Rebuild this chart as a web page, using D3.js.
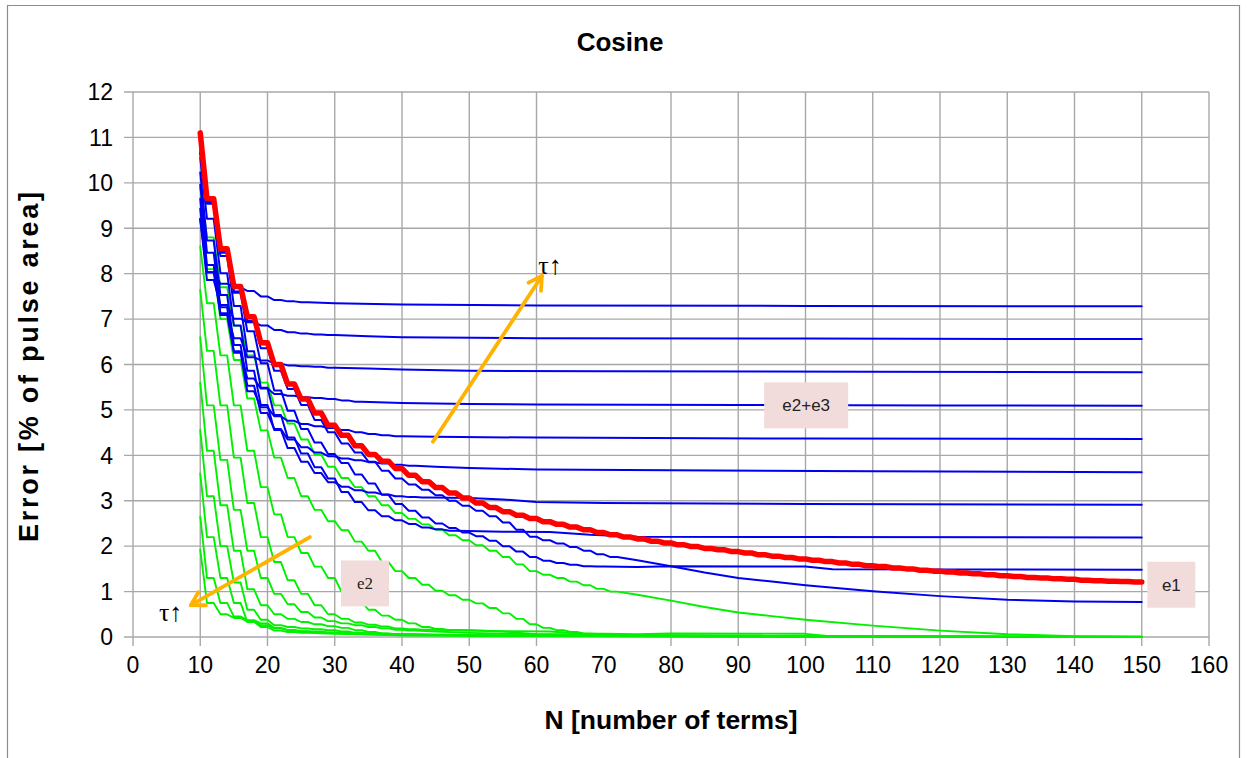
<!DOCTYPE html>
<html>
<head>
<meta charset="utf-8">
<script src="https://cdn.jsdelivr.net/npm/d3@7"></script>
<style>
  body { margin: 0; background: #fff; }
  svg { display: block; }
</style>
</head>
<body>
<svg id="chart" width="1247" height="758"></svg>
<script>
// ---- axis ticks ----
const xTicks = [0, 10, 20, 30, 40, 50, 60, 70, 80, 90, 100, 110, 120, 130, 140, 150, 160];
const yTicks = [0, 1, 2, 3, 4, 5, 6, 7, 8, 9, 10, 11, 12];
const xGridGaps = [70];   // this gridline is not drawn in the sheet

// ---- series ----
// "steps" arrays: first value at N=10, then one level per pair of terms
// (N=11/12, 13/14, 15/16, ...). "tails" continue a curve as [N, value].

// e1: truncation error
const e1Steps = [11.1,
  9.65, 8.55, 7.72, 7.05, 6.48, 6.0, 5.57, 5.24, 4.93, 4.66,
  4.44, 4.21, 4.02, 3.87, 3.71, 3.56, 3.42, 3.29, 3.17, 3.06,
  2.95, 2.85, 2.76, 2.68, 2.61, 2.54, 2.48, 2.42, 2.36, 2.3,
  2.25, 2.2, 2.16, 2.11, 2.07, 2.03, 1.99, 1.95, 1.92, 1.88,
  1.85, 1.81, 1.78, 1.75, 1.72, 1.69, 1.66, 1.63, 1.6, 1.57,
  1.55, 1.52, 1.5, 1.47, 1.45, 1.43, 1.41, 1.39, 1.37, 1.35,
  1.33, 1.31, 1.3, 1.28, 1.27, 1.25, 1.24, 1.23, 1.22, 1.21];

// e2: one curve per pulse width tau (fastest decay first)
const e2Steps = [
  [1.92, 0.75, 0.5, 0.42, 0.34, 0.22, 0.14, 0.11, 0.09],
  [2.65, 1.3, 0.75, 0.45, 0.37, 0.3, 0.2, 0.15, 0.12, 0.1, 0.09],
  [3.6, 2.2, 1.3, 0.75, 0.33, 0.26, 0.19, 0.15, 0.13, 0.12, 0.1],
  [4.56, 3.1, 2.0, 1.2, 0.6, 0.38, 0.26, 0.22, 0.19, 0.17, 0.15, 0.12, 0.09],
  [5.6, 4.1, 2.9, 1.9, 1.05, 0.7, 0.5, 0.4, 0.33, 0.28, 0.24, 0.2, 0.15, 0.11, 0.08, 0.06],
  [6.6, 5.1, 3.9, 2.8, 1.9, 1.3, 0.95, 0.72, 0.55, 0.43, 0.35, 0.3, 0.26, 0.22, 0.19, 0.16, 0.14],
  [7.64, 6.3, 5.1, 3.95, 2.95, 2.2, 1.65, 1.25, 0.95, 0.7, 0.5, 0.4, 0.32, 0.27, 0.23, 0.19, 0.17, 0.16],
  [8.6, 7.35, 6.2, 5.1, 4.1, 3.3, 2.7, 2.2, 1.85, 1.55, 1.3, 1.0, 0.78, 0.6, 0.47, 0.38, 0.3, 0.22, 0.18, 0.15],
  [9.2, 8.1, 7.0, 6.1, 5.25, 4.55, 3.95, 3.5, 3.1, 2.8, 2.55, 2.35, 2.1, 1.9, 1.65, 1.45,
   1.3, 1.15, 1.02, 0.92, 0.82, 0.74, 0.64, 0.52, 0.4, 0.28, 0.2, 0.15, 0.11, 0.08, 0.07],
  [9.9, 8.8, 7.7, 6.85, 6.2, 5.6, 5.1, 4.7, 4.35, 4.02, 3.75, 3.5, 3.3, 3.1, 2.9, 2.73,
   2.6, 2.48, 2.36, 2.24, 2.13, 2.02, 1.9, 1.76, 1.6, 1.45, 1.37, 1.3, 1.22, 1.14, 1.06, 1.0]
];
const e2Tails = [
  [[30, 0.07], [40, 0.04], [60, 0.02], [100, 0.01], [150, 0]],
  [[35, 0.06], [40, 0.04], [60, 0.02], [100, 0.01], [150, 0]],
  [[35, 0.08], [40, 0.06], [50, 0.03], [70, 0.02], [110, 0.01], [150, 0]],
  [[40, 0.06], [50, 0.04], [60, 0.03], [90, 0.02], [120, 0.01], [150, 0]],
  [[45, 0.05], [60, 0.03], [100, 0.01], [150, 0]],
  [[45, 0.12], [50, 0.09], [60, 0.06], [80, 0.04], [110, 0.02], [150, 0]],
  [[50, 0.15], [55, 0.12], [60, 0.06], [70, 0.04], [100, 0.02], [150, 0]],
  [[55, 0.13], [62, 0.12], [68, 0.06], [75, 0.02], [100, 0.01], [150, 0]],
  [[75, 0.06], [80, 0.08], [100, 0.07], [104, 0.01], [150, 0]],
  [[75, 0.93], [80, 0.8], [85, 0.66], [90, 0.54], [95, 0.46], [100, 0.38],
   [110, 0.25], [120, 0.14], [130, 0.06], [140, 0.02], [150, 0.01]]
];
// e3: constant part for each tau, in the same order as e2
const e3Levels = [7.28, 6.56, 5.83, 5.09, 4.36, 3.63, 2.91, 2.19, 1.48, 0.76];

// ---- layout ----
const W = 1247, H = 758;
const svg = d3.select('#chart');
const x = d3.scaleLinear().domain([0, 160]).range([133, 1209]);
const y = d3.scaleLinear().domain([0, 12]).range([637, 92]);

const narrow = "'Liberation Sans Narrow', 'Arial Narrow', 'Liberation Sans', Arial, sans-serif";
const sansWide = "'Liberation Sans', Arial, sans-serif";
const serif = "'Liberation Serif', 'Times New Roman', serif";

// outer frame of the chart area
svg.append('path')
  .attr('d', 'M7.5,' + H + ' V5.5 H1239.5 V' + H)
  .attr('fill', 'none').attr('stroke', '#8c8c8c').attr('stroke-width', 1.2);

// gridlines with short outward ticks
const grid = svg.append('g').attr('stroke', '#a8a8a8').attr('stroke-width', 1.4);
xTicks.filter(t => !xGridGaps.includes(t)).forEach(t => {
  grid.append('line')
    .attr('x1', x(t)).attr('x2', x(t))
    .attr('y1', y(12)).attr('y2', y(0) + 9);
});
yTicks.forEach(t => {
  grid.append('line')
    .attr('x1', x(0) - 9).attr('x2', x(160))
    .attr('y1', y(t)).attr('y2', y(t));
});

// tick labels
const tickG = svg.append('g').attr('font-family', narrow).attr('font-size', 23).attr('fill', '#000');
yTicks.forEach(t => {
  tickG.append('text').attr('x', x(0) - 20).attr('y', y(t)).attr('dy', '0.36em')
    .attr('text-anchor', 'end').text(t);
});
xTicks.forEach(t => {
  tickG.append('text').attr('x', x(t)).attr('y', 673)
    .attr('text-anchor', 'middle').text(t);
});

// titles
svg.append('text').attr('x', 620).attr('y', 51).attr('text-anchor', 'middle')
  .attr('font-family', narrow).attr('font-weight', 'bold').attr('font-size', 26)
  .text('Cosine');
svg.append('text').attr('x', 671).attr('y', 729).attr('text-anchor', 'middle')
  .attr('font-family', sansWide).attr('font-weight', 'bold').attr('font-size', 26)
  .attr('textLength', 253).attr('lengthAdjust', 'spacingAndGlyphs')
  .text('N [number of terms]');
svg.append('text')
  .attr('transform', 'translate(38,367) rotate(-90)')
  .attr('text-anchor', 'middle')
  .attr('font-family', sansWide).attr('font-weight', 'bold').attr('font-size', 27)
  .attr('textLength', 350)
  .text('Error [% of pulse area]');

// ---- curves ----
function stepPoints(steps, tail) {
  const pts = [[10, steps[0]]];
  for (let i = 1; i < steps.length; i++) {
    const n = 9 + 2 * i;
    pts.push([n, steps[i]], [n + 1, steps[i]]);
  }
  return pts.concat(tail || []);
}
const line = d3.line().x(d => x(d[0])).y(d => y(d[1]));

const plot = svg.append('g').attr('fill', 'none')
  .attr('stroke-linejoin', 'round').attr('stroke-linecap', 'round');

const e2Series = e2Steps.map((s, k) => stepPoints(s, e2Tails[k]));
plot.append('g').selectAll('path').data(e2Series).join('path')
  .attr('d', line).attr('stroke', '#00f000').attr('stroke-width', 1.9);

const e23Series = e2Series.map((pts, k) => pts.map(([n, v]) => [n, v + e3Levels[k]]));
plot.append('g').selectAll('path').data(e23Series).join('path')
  .attr('d', line).attr('stroke', '#0000f0').attr('stroke-width', 2);

plot.append('path').datum(stepPoints(e1Steps))
  .attr('d', line).attr('stroke', '#ff0000').attr('stroke-width', 5.5);

// ---- annotations ----
const arrowColor = '#ffb300';
function arrow(from, to) {
  const x1 = x(from[0]), y1 = y(from[1]), x2 = x(to[0]), y2 = y(to[1]);
  const a = Math.atan2(y2 - y1, x2 - x1), len = 15, spread = Math.PI / 6;
  const g = svg.append('g').attr('stroke', arrowColor).attr('stroke-width', 3.8)
    .attr('fill', 'none').attr('stroke-linecap', 'round').attr('stroke-linejoin', 'round');
  g.append('line').attr('x1', x1).attr('y1', y1).attr('x2', x2).attr('y2', y2);
  g.append('path').attr('d',
    'M' + (x2 - len * Math.cos(a - spread)) + ',' + (y2 - len * Math.sin(a - spread)) +
    'L' + x2 + ',' + y2 +
    'L' + (x2 - len * Math.cos(a + spread)) + ',' + (y2 - len * Math.sin(a + spread)));
}
arrow([44.6, 4.3], [60.8, 7.95]);
arrow([26.3, 2.2], [8.6, 0.7]);

function tauLabel(n, v) {
  svg.append('text').attr('x', x(n)).attr('y', y(v)).attr('dy', '0.35em')
    .attr('text-anchor', 'middle').attr('font-family', serif).attr('font-size', 26)
    .attr('fill', '#000').text('τ↑');
}
tauLabel(62.0, 8.2);
tauLabel(5.6, 0.55);

function tag(n, v, w, h, label, font) {
  const cx = x(n), cy = y(v);
  svg.append('rect').attr('x', cx - w / 2).attr('y', cy - h / 2)
    .attr('width', w).attr('height', h).attr('fill', '#f2dcdb');
  svg.append('text').attr('x', cx).attr('y', cy).attr('dy', '0.35em')
    .attr('text-anchor', 'middle').attr('font-family', font).attr('font-size', 17)
    .attr('fill', '#222').text(label);
}
tag(100.1, 5.1, 84, 46, 'e2+e3', sansWide);
tag(34.5, 1.18, 48, 46, 'e2', serif);
tag(154.4, 1.15, 48, 46, 'e1', sansWide);
</script>
</body>
</html>
